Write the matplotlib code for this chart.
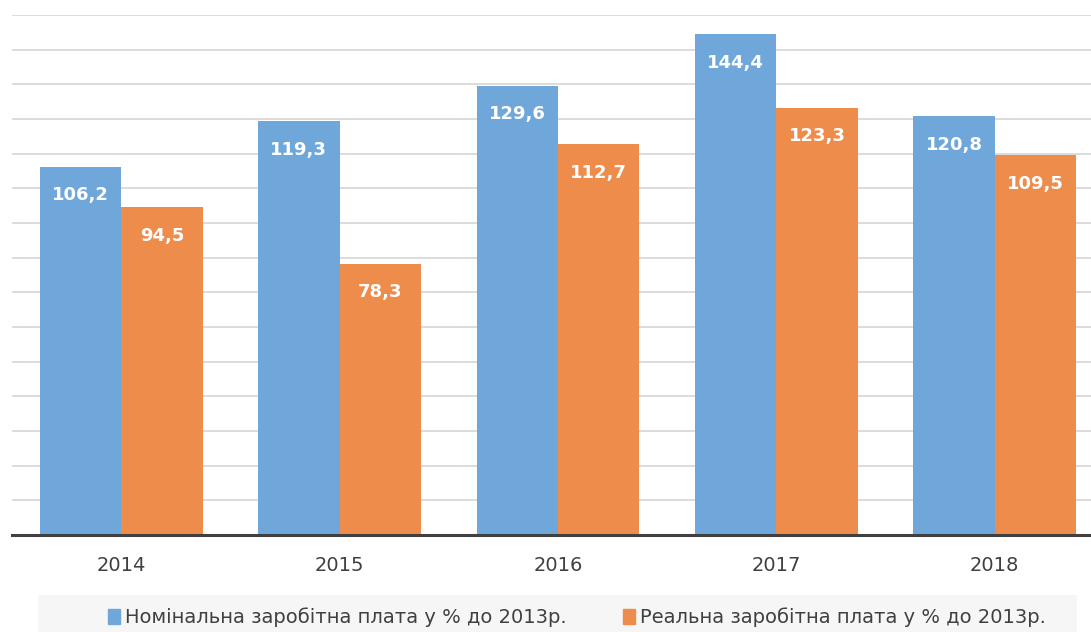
import numpy as np
import matplotlib.pyplot as plt
from matplotlib.patches import Patch, Rectangle

years = ["2014", "2015", "2016", "2017", "2018"]
nominal = [106.2, 119.3, 129.6, 144.4, 120.8]
real = [94.5, 78.3, 112.7, 123.3, 109.5]
label_nominal = "Номінальна заробітна плата у % до 2013р."
label_real = "Реальна заробітна плата у % до 2013р."

blue = "#6fa7db"
orange = "#ee8c4c"
dark = "#404040"

W, H = 1091, 632
fig = plt.figure(figsize=(W / 100, H / 100), dpi=100)
fig.patch.set_facecolor("white")

# plot area (right edge runs slightly off the picture, like the crop)
ax = fig.add_axes([12 / W, (H - 535) / H, 1092 / W, 520 / H])

x = np.arange(len(years))
w = 0.373
b1 = ax.bar(x - w / 2, nominal, w, color=blue, zorder=3)
b2 = ax.bar(x + w / 2, real, w, color=orange, zorder=3)

for bars, vals in ((b1, nominal), (b2, real)):
    for r, v in zip(bars, vals):
        ax.annotate(f"{v:.1f}".replace(".", ","),
                    (r.get_x() + r.get_width() / 2, r.get_height()),
                    xytext=(0, -20.5), textcoords="offset points",
                    ha="center", va="center", color="white",
                    fontsize=13, fontweight="bold", zorder=4)

ax.set_xlim(-0.5, len(years) - 0.5)
ax.set_ylim(0, 150)
ax.set_yticks(np.arange(0, 151, 10))
ax.set_yticklabels([])
ax.tick_params(axis="y", length=0)
ax.yaxis.grid(True, color="#d9d9d9", linewidth=1.3, zorder=0)
ax.set_axisbelow(True)

ax.set_xticks(x)
ax.set_xticklabels(years)
ax.tick_params(axis="x", length=0, pad=15, labelsize=14, labelcolor=dark)

for s in ("top", "right", "left"):
    ax.spines[s].set_visible(False)
ax.spines["bottom"].set_color(dark)
ax.spines["bottom"].set_linewidth(2.2)
ax.spines["bottom"].set_zorder(5)

# legend band
fig.patches.append(Rectangle((38 / W, 0), (1077 - 38) / W, (H - 595) / H,
                             transform=fig.transFigure, facecolor="#f6f6f6",
                             edgecolor="none", zorder=0))

handles = [Patch(color=blue, label=label_nominal),
           Patch(color=orange, label=label_real)]
fig.legend(handles=handles, loc="center", ncol=2,
           bbox_to_anchor=(577 / W, 1 - 617 / H), frameon=False,
           fontsize=14, labelcolor=dark, handlelength=0.62, handleheight=0.8,
           handletextpad=0.25, columnspacing=2.9, borderpad=0)

fig.savefig("out.png", dpi=100)
